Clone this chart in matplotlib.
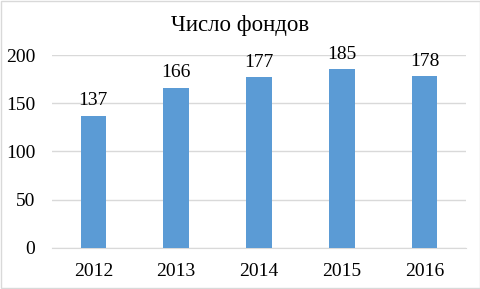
import matplotlib
matplotlib.use("Agg")
import matplotlib.pyplot as plt
from matplotlib.patches import Rectangle

years = ["2012", "2013", "2014", "2015", "2016"]
funds = [137, 166, 177, 185, 178]
y_ticks = [0, 50, 100, 150, 200]

bar_color = "#5b9bd5"
grid_color = "#d9d9d9"
text_color = "#000000"

plt.rcParams["font.family"] = ["Liberation Serif", "DejaVu Serif"]

fig = plt.figure(figsize=(4.81, 2.89), dpi=100)
ax = fig.add_axes([52 / 481, 1 - 247.7 / 289, (466 - 52) / 481, (247.7 - 55) / 289])

x = range(len(years))
ax.bar(x, funds, width=0.31, color=bar_color, zorder=3)
for xi, v in zip(x, funds):
    ax.annotate(str(v), (xi, v), xytext=(0, 15), textcoords="offset pixels",
                ha="center", va="center", fontsize=14, color=text_color)

ax.set_xlim(-0.5, len(years) - 0.5)
ax.set_ylim(0, 200)
ax.set_yticks(y_ticks)
ax.set_xticks(list(x))
ax.set_xticklabels(years)
ax.tick_params(axis="both", length=0, labelsize=14, colors=text_color)
ax.tick_params(axis="x", pad=11)
ax.tick_params(axis="y", pad=12)
ax.yaxis.grid(True, color=grid_color, linewidth=1, zorder=0)
ax.set_axisbelow(True)
for side in ["top", "right", "left"]:
    ax.spines[side].set_visible(False)
ax.spines["bottom"].set_color(grid_color)

fig.text(0.5, 1 - 25 / 289, "Число фондов", ha="center", va="center",
         fontsize=16.5, color=text_color)

# outer chart border
fig.patches.append(Rectangle((0.002, 0.004), 0.995, 0.992, transform=fig.transFigure,
                             fill=False, edgecolor=grid_color, linewidth=1))

fig.savefig("out.png", dpi=100)
